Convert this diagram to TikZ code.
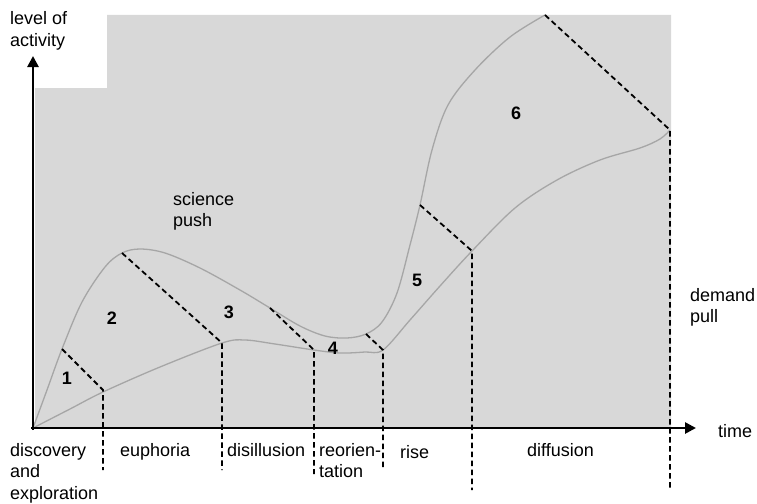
\documentclass[tikz,border=0pt]{standalone}
\usepackage{fontspec}
\setmainfont{Liberation Sans}
\usetikzlibrary{arrows.meta}
\definecolor{panel}{HTML}{D8D8D8}
\definecolor{curveline}{HTML}{A6A6A6}
% stacked lines whose baseline is that of the first line
\newcommand{\stackedtext}[1]{\begin{tabular}[t]{@{}l@{}}#1\end{tabular}}
\begin{document}
\begin{tikzpicture}[x=1pt,y=-1pt,
  lbl/.style={anchor=base west,inner sep=0pt,font=\fontsize{18}{21.5}\selectfont},
  num/.style={inner sep=0pt,font=\fontsize{18}{21.5}\selectfont\bfseries},
  bound/.style={black,line width=1.8pt,dash pattern=on 5.5pt off 3.5pt},
  curve/.style={curveline,line width=1.3pt},
  axis/.style={black,line width=2.6pt,-{Triangle[length=11pt,width=11pt]}}]
\useasboundingbox (0,0) rectangle (757,503);
% shaded field
\fill[panel] (35,428) -- (35,88) -- (107,88) -- (107,15) -- (671,15) -- (671,428) -- cycle;
% the two growth curves
\draw[curve] plot[smooth,tension=0.55] coordinates {
  (33,428) (47,390) (62,349) (82,302) (105,267) (122,253) (140,249) (165,253)
  (200,268) (240,290) (270,308) (300,326) (325,336) (347,338) (366,334)
  (382,322) (397,293) (410,245) (420,205) (432,150) (448,105) (475,70)
  (510,37) (545,15)};
\draw[curve] plot[smooth,tension=0.55] coordinates {
  (33,428) (70,409) (103,392) (160,367) (222,343) (245,340) (275,344)
  (314,350) (340,353) (365,352) (383,350) (410,320) (440,286) (472,251)
  (515,208) (557,180) (600,160) (640,148) (660,139) (670,130)};
% phase boundaries
\coordinate (a1) at (62,349);  \coordinate (b1) at (103,390); \coordinate (c1) at (103,470);
\coordinate (a2) at (122,253); \coordinate (b2) at (222,343); \coordinate (c2) at (222,470);
\coordinate (a3) at (270,308); \coordinate (b3) at (314,350); \coordinate (c3) at (314,474);
\coordinate (a4) at (366,334); \coordinate (b4) at (383,350); \coordinate (c4) at (383,470);
\coordinate (a5) at (420,205); \coordinate (b5) at (472,251); \coordinate (c5) at (472,490);
\coordinate (a6) at (545,15);  \coordinate (b6) at (670,130); \coordinate (c6) at (670,490);
\foreach \i in {1,...,6}{\draw[bound] (a\i) -- (b\i) -- (c\i);}
% axes
\coordinate (o) at (33,428);
\coordinate (ytip) at (33,56);
\coordinate (xtip) at (696,428);
\draw[axis] (33,430) -- (ytip);
\draw[axis] (31,428) -- (xtip);
% phase numbers
\node[num] (n1) at (67,378) {1};
\node[num] (n2) at (112,318) {2};
\node[num] (n3) at (229,312) {3};
\node[num] (n4) at (333,348) {4};
\node[num] (n5) at (417,280) {5};
\node[num] (n6) at (516,113) {6};
% axis and area labels
\node[lbl] (ylab) at (10,25) {\stackedtext{level of\\activity}};
\node[lbl] (xlab) at (718,437) {time};
\node[lbl] (push) at (173,205) {\stackedtext{science\\push}};
\node[lbl] (pull) at (690,301) {\stackedtext{demand\\pull}};
% phase names
\node[lbl] (p1) at (10,456) {\stackedtext{discovery\\and\\exploration}};
\node[lbl] (p2) at (120,456) {euphoria};
\node[lbl] (p3) at (227,456) {disillusion};
\node[lbl] (p4) at (319,456) {\stackedtext{reorien-\\tation}};
\node[lbl] (p5) at (400,458) {rise};
\node[lbl] (p6) at (527,456) {diffusion};
\end{tikzpicture}
\end{document}
